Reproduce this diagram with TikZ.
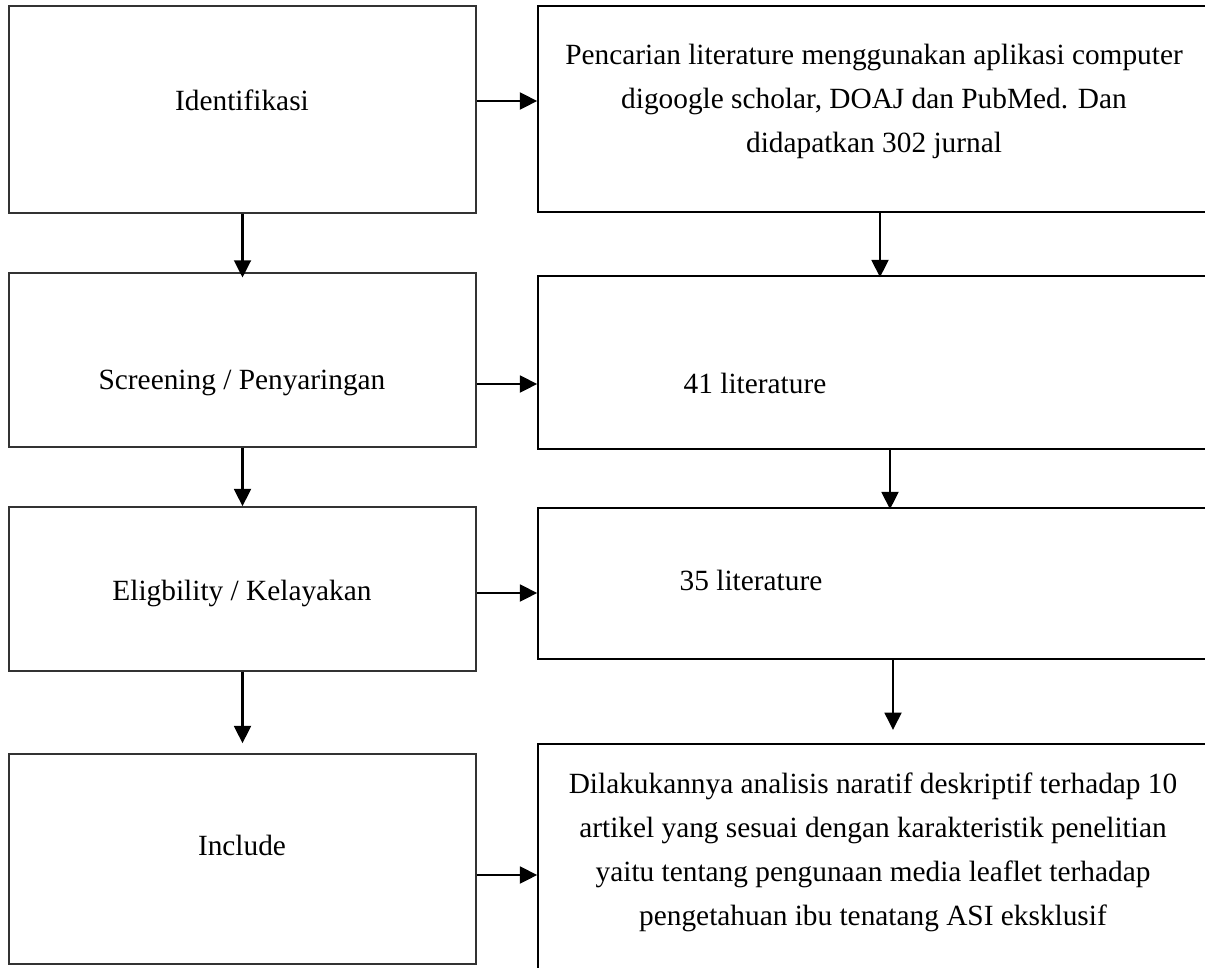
\documentclass[tikz,border=0pt]{standalone}
\usepackage{fontspec}
\setmainfont{Liberation Serif}
\usetikzlibrary{arrows.meta,fit}
\begin{document}
\begin{tikzpicture}[x=0.75pt,y=-0.75pt,
		box/.style={draw=black!80,line width=1.1pt,inner sep=0pt},
		txt/.style={font=\fontsize{22}{33}\selectfont,align=center,inner sep=0pt},
		arr/.style={line width=2.2pt,-{Triangle[length=13pt,width=12.5pt]}}]
		\useasboundingbox (0,0) rectangle (1205,967);
		\node[box,fit={(9,6) (476,213)}] (lIdent) {};
		\node[box,fit={(9,273) (476,447)}] (lScreen) {};
		\node[box,fit={(9,507) (476,671)}] (lElig) {};
		\node[box,fit={(9,754) (476,964)}] (lIncl) {};
		\node[box,draw=black,fit={(538,6) (1215,212)}] (rSearch) {};
		\node[box,draw=black,fit={(538,276) (1215,449)}] (rScreen) {};
		\node[box,draw=black,fit={(538,508) (1215,659)}] (rElig) {};
		\node[box,draw=black,fit={(538,744) (1215,975)}] (rIncl) {};
		\node[txt] (tIdent) at (242,100) {Identifikasi};
		\node[txt] (tScreen) at (242,383) {Screening / Penyaringan};
		\node[txt] (tElig) at (242,593) {Eligbility / Kelayakan};
		\node[txt] (tIncl) at (242,845) {Include};
		\node[txt] (tSearch) at (874,101) {Pencarian literature menggunakan aplikasi computer\\digoogle scholar, DOAJ dan PubMed. Dan\\didapatkan 302 jurnal};
		\node[txt] (t41) at (755,383) {41 literature};
		\node[txt] (t35) at (751,580) {35 literature};
		\node[txt] (tAnal) at (873,852) {Dilakukannya analisis naratif deskriptif terhadap 10\\artikel yang sesuai dengan karakteristik penelitian\\yaitu tentang pengunaan media leaflet terhadap\\pengetahuan ibu tenatang ASI eksklusif};
		\draw[arr] (lIdent.east |- 0,101) -- (rSearch.west |- 0,101);
		\draw[arr] (lScreen.east |- 0,384) -- (rScreen.west |- 0,384);
		\draw[arr] (lElig.east |- 0,593) -- (rElig.west |- 0,593);
		\draw[arr] (lIncl.east |- 0,875) -- (rIncl.west |- 0,875);
		\draw[arr,shorten >=-4pt] (lIdent.south) -- (lScreen.north);
		\draw[arr] (lScreen.south) -- (lElig.north);
		\draw[arr,shorten >=7.5pt] (lElig.south) -- (lIncl.north);
		\draw[arr,shorten >=-1.5pt] (rSearch.south -| 880,0) -- (rScreen.north -| 880,0);
		\draw[arr,shorten >=-1.5pt] (rScreen.south -| 890,0) -- (rElig.north -| 890,0);
		\draw[arr,shorten >=10pt] (rElig.south -| 893,0) -- (rIncl.north -| 893,0);
\end{tikzpicture}
\end{document}
